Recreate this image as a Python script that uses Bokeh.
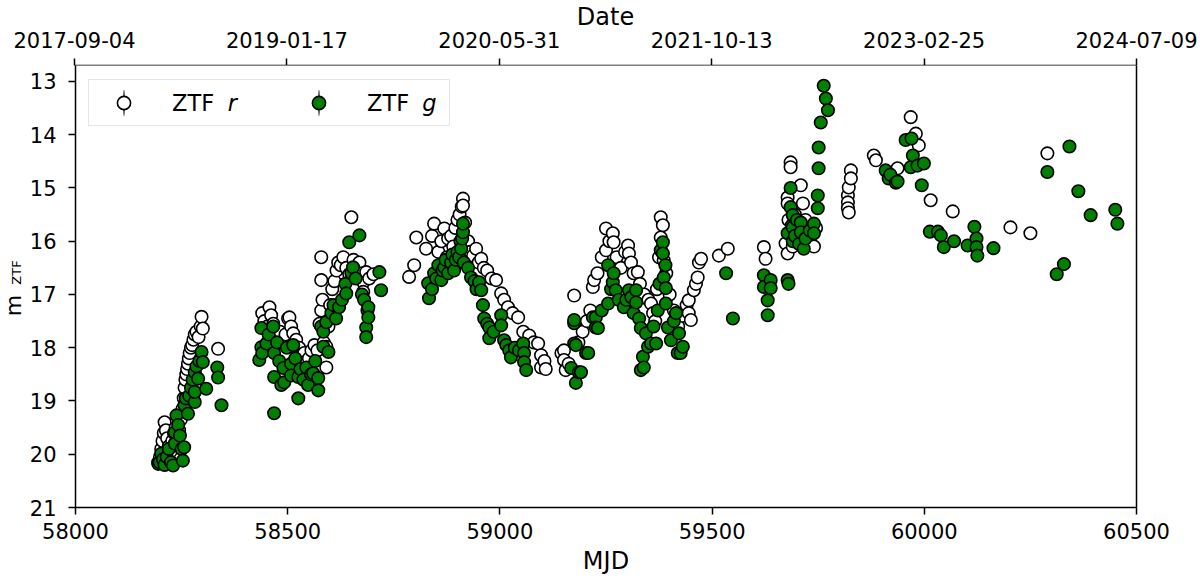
import math
from bokeh.plotting import figure
from bokeh.layouts import row, column
from bokeh.models import (Range1d, LinearAxis, FixedTicker, Legend, LegendItem,
                          Label, ColumnDataSource)
from bokeh.core.properties import value
from bokeh.embed import file_html
from bokeh.resources import INLINE

# ---------------- data ----------------
r_mjd = [
    58195, 58199, 58202, 58205, 58208, 58210, 58213, 58216, 58220, 58224,
    58228, 58232, 58236, 58240, 58244, 58248, 58252, 58255, 58257, 58259,
    58261, 58263, 58265, 58267, 58269, 58272, 58275, 58278, 58281, 58285,
    58290, 58295, 58297, 58300, 58336,
    58440, 58445, 58452, 58457, 58461, 58466, 58475, 58482, 58490, 58495,
    58501, 58504, 58508, 58513, 58520, 58527, 58532, 58539, 58545, 58550,
    58556, 58563, 58570, 58575, 58579, 58579, 58579, 58582, 58585, 58591,
    58591, 58596, 58600, 58605, 58610, 58615, 58619, 58625, 58631, 58638,
    58645, 58650, 58655, 58662, 58669, 58675, 58678, 58678, 58685, 58692,
    58702,
    58786, 58798, 58803, 58826, 58840, 58845, 58855, 58862, 58869, 58875,
    58878, 58885, 58890, 58895, 58900, 58905, 58910, 58913, 58913, 58918,
    58925, 58930, 58937, 58944, 58950, 58956, 58962, 58970, 58980, 58991,
    59003, 59010, 59019, 59030, 59043, 59055, 59069, 59080, 59090, 59097,
    59097, 59105, 59108,
    59145, 59151, 59151, 59155, 59162, 59175, 59185, 59195, 59205, 59213,
    59219, 59222, 59230, 59240, 59250, 59250, 59258, 59266, 59268, 59275,
    59285, 59295, 59302, 59304, 59309, 59315, 59325, 59330, 59340, 59350,
    59356, 59361, 59366, 59370, 59375, 59379, 59384, 59379, 59386, 59392,
    59400, 59410, 59420, 59430, 59440, 59445, 59445, 59450, 59457, 59462,
    59466, 59469, 59474, 59516, 59537,
    59622, 59626, 59673, 59678, 59678, 59678, 59680, 59683, 59685, 59685,
    59688, 59690, 59695, 59700, 59709, 59714, 59720, 59725, 59730, 59740,
    59745, 59820, 59820, 59820, 59822, 59822, 59827, 59827,
    59881, 59886, 59937, 59968, 59980, 59987, 60015, 60067, 60203, 60250,
    60290,
]
r_mag = [
    20.15, 20.05, 19.90, 19.75, 19.60, 19.40, 19.55, 19.70, 19.85, 19.95,
    19.75, 19.60, 19.50, 19.65, 19.55, 19.35, 19.15, 18.95, 18.75, 18.60,
    18.50, 18.40, 18.30, 18.20, 18.10, 18.00, 17.95, 17.85, 17.75, 17.70,
    17.80, 17.60, 17.42, 17.64, 18.02,
    17.35, 17.50, 17.60, 17.24, 17.39, 17.55, 17.80, 17.70, 17.90, 17.75,
    17.45, 17.43, 17.60, 17.73, 17.85, 18.00, 18.15, 18.10, 18.25, 18.20,
    18.05, 17.95, 18.05, 17.55, 17.30, 16.73, 16.30, 17.10, 17.90, 18.37,
    17.98, 17.60, 17.20, 16.90, 16.75, 16.55, 16.40, 16.45, 16.30, 16.50,
    16.62, 15.55, 16.35, 16.50, 16.40, 16.60, 16.77, 16.95, 16.58, 16.70,
    16.62,
    16.67, 16.45, 15.93, 16.14, 15.90, 15.67, 16.20, 16.00, 15.76, 16.30,
    15.95, 15.90, 16.10, 15.75, 15.60, 15.50, 15.35, 15.20, 15.33, 15.65,
    16.00, 16.20, 16.27, 16.14, 16.40, 16.33, 16.50, 16.55, 16.70, 16.73,
    16.98, 17.10, 17.24, 17.35, 17.43, 17.70, 17.77, 17.90, 17.92, 18.14,
    18.37, 18.25, 18.40,
    18.10, 18.05, 18.23, 18.42, 18.30, 17.02, 17.90, 17.70, 17.50, 17.30,
    16.86, 16.73, 16.60, 16.30, 15.76, 16.17, 16.00, 15.85, 16.02, 16.30,
    16.50, 16.20, 16.08, 16.23, 16.40, 16.60, 16.58, 16.80, 17.00, 17.10,
    17.17, 17.35, 17.50, 16.90, 16.30, 15.55, 15.70, 15.93, 16.36, 16.60,
    17.00, 17.30, 17.60, 17.40, 17.20, 17.11, 17.35, 17.48, 16.92, 16.80,
    16.68, 16.40, 16.33, 16.27, 16.14,
    16.11, 16.33, 16.04, 16.23, 15.18, 15.29, 15.60, 15.85, 14.52, 14.61,
    15.90, 16.10, 15.50, 15.80, 14.95, 15.29, 15.60, 15.90, 16.00, 16.10,
    15.75, 15.14, 15.27, 15.38, 14.99, 15.46, 14.67, 14.82,
    14.39, 14.48, 14.63, 13.67, 13.98, 14.20, 15.23, 15.44, 15.74, 15.85,
    14.35,
]

g_mjd = [
    58195, 58198, 58202, 58206, 58210, 58215, 58220, 58225, 58230, 58234,
    58234, 58238, 58242, 58246, 58250, 58253, 58256, 58257, 58260, 58265,
    58268, 58272, 58276, 58281, 58281, 58281, 58285, 58289, 58292, 58297,
    58300, 58308, 58334, 58336, 58344,
    58433, 58438, 58438, 58440, 58450, 58455, 58466, 58468, 58468, 58468,
    58475, 58480, 58485, 58490, 58492, 58498, 58508, 58508, 58513, 58518,
    58525, 58525, 58530, 58537, 58544, 58548, 58555, 58560, 58565, 58572,
    58572, 58579, 58584, 58584, 58591, 58596, 58603, 58608, 58614, 58621,
    58628, 58636, 58638, 58645, 58650, 58654, 58660, 58669, 58675, 58680,
    58685, 58685, 58688, 58690, 58690, 58716, 58720,
    58831, 58833, 58840, 58845, 58850, 58855, 58862, 58865, 58869, 58872,
    58878, 58885, 58888, 58892, 58896, 58900, 58904, 58907, 58909, 58911,
    58913, 58913, 58915, 58925, 58932, 58940, 58945, 58951, 58956, 58960,
    58963, 58970, 58975, 58975, 58985, 59003, 59003, 59010, 59015, 59022,
    59026, 59035, 59045, 59055, 59057, 59057, 59062,
    59168, 59175, 59175, 59175, 59179, 59179, 59186, 59191, 59203, 59208,
    59219, 59226, 59226, 59231, 59240, 59255, 59255, 59262, 59266, 59268,
    59273, 59280, 59292, 59298, 59304, 59310, 59315, 59321, 59321, 59328,
    59332, 59332, 59337, 59339, 59344, 59349, 59356, 59362, 59368, 59372,
    59376, 59379, 59384, 59384, 59386, 59390, 59391, 59391, 59396, 59403,
    59410, 59415, 59419, 59422, 59426, 59431, 59533, 59549,
    59622, 59622, 59631, 59631, 59638, 59638, 59678, 59680, 59678, 59685,
    59685, 59688, 59690, 59690, 59690, 59695, 59700, 59705, 59709, 59709,
    59716, 59720, 59730, 59740, 59740, 59749, 59749, 59751, 59751, 59756,
    59763, 59768, 59773,
    59909, 59916, 59920, 59933, 59937, 59956, 59968, 59970, 59973, 59984,
    59994, 59999, 60013, 60032, 60039, 60046, 60070, 60102, 60118, 60123,
    60123, 60125, 60163, 60290, 60312, 60329, 60342, 60363, 60392, 60450,
    60455,
]
g_mag = [
    20.18, 20.15, 19.99, 20.10, 20.20, 20.05, 19.90, 20.15, 20.21, 19.80,
    19.59, 19.27, 19.45, 19.65, 19.90, 20.12, 19.87, 19.08, 18.95, 19.24,
    18.90, 18.75, 18.60, 19.02, 18.83, 18.46, 18.35, 18.58, 18.25, 18.08,
    18.27, 18.77, 18.37, 18.56, 19.08,
    18.23, 17.63, 17.99, 18.10, 17.92, 17.75, 17.60, 18.10, 18.55, 19.23,
    17.90, 18.25, 18.70, 18.38, 18.65, 18.00, 18.30, 18.52, 17.95, 18.20,
    18.55, 18.95, 18.40, 18.60, 18.37, 18.70, 18.50, 18.48, 18.25, 18.57,
    18.80, 17.60, 17.70, 17.98, 17.52, 18.08, 17.35, 17.20, 17.45, 17.24,
    17.10, 16.80, 16.98, 16.02, 16.60, 16.49, 16.70, 15.89, 17.00, 17.10,
    17.62, 17.80, 17.30, 17.24, 17.43, 16.58, 16.92,
    16.79, 17.07, 16.90, 16.60, 16.70, 16.45, 16.73, 16.55, 16.49, 16.35,
    16.60, 16.40, 16.25, 16.55, 16.35, 16.20, 16.30, 16.00, 16.14, 15.95,
    15.83, 15.67, 16.40, 16.50, 16.68, 16.75, 16.90, 16.77, 16.92, 17.20,
    17.45, 17.55, 17.62, 17.82, 17.70, 17.39, 17.58, 17.86, 17.95, 18.05,
    18.18, 18.00, 18.05, 17.92, 18.10, 18.27, 18.42,
    18.38, 17.54, 17.92, 17.48, 17.95, 18.66, 18.46, 18.46, 18.10, 18.10,
    17.43, 17.43, 17.62, 17.63, 17.30, 17.17, 16.45, 16.90, 16.77, 16.60,
    16.92, 17.10, 17.24, 17.10, 16.92, 17.05, 17.35, 16.92, 17.15, 17.45,
    17.63, 18.42, 18.17, 18.37, 17.73, 17.98, 17.92, 17.60, 17.92, 17.30,
    16.80, 16.17, 16.02, 16.23, 16.68, 16.45, 16.88, 17.17, 17.62, 17.86,
    17.50, 17.35, 18.10, 17.73, 18.10, 17.98, 16.60, 17.45,
    16.64, 16.86, 17.11, 17.39, 16.73, 16.88, 16.73, 16.80, 15.85, 15.00,
    15.36, 15.70, 15.51, 15.74, 16.00, 15.90, 15.60, 16.05, 15.65, 15.83,
    16.14, 15.95, 15.80, 15.67, 15.85, 15.14, 15.38, 14.24, 14.63, 13.77,
    13.08, 13.32, 13.54,
    14.67, 14.82, 14.75, 14.90, 14.88, 14.10, 14.61, 14.07, 14.39, 14.58,
    14.95, 14.54, 15.82, 15.82, 15.89, 16.11, 16.00, 16.08, 15.73, 15.95,
    16.11, 16.27, 16.13, 14.70, 16.62, 16.43, 14.22, 15.06, 15.51, 15.41,
    15.67,
]

x_ticks = [58000, 58500, 59000, 59500, 60000, 60500]
date_labels = ["2017-09-04", "2019-01-17", "2020-05-31",
               "2021-10-13", "2023-02-25", "2024-07-09"]
y_ticks = [13, 14, 15, 16, 17, 18, 19, 20, 21]
series_names = ["ZTF", "ZTF"]
band_names = ["r", "g"]

assert len(r_mjd) == len(r_mag), (len(r_mjd), len(r_mag))
assert len(g_mjd) == len(g_mag), (len(g_mjd), len(g_mag))

FONT = "DejaVu Sans"
FRAME_L, FRAME_T, FRAME_R, FRAME_B = 74, 65, 1136, 507   # page pixels
TOP_H = FRAME_T          # figure carrying the top (Date) axis
YLAB_W = 26              # strip carrying the y-axis title
PH = 578 - TOP_H

x_range = Range1d(58000, 60500)


def style_axis(ax, standoff):
    ax.axis_line_color = "black"
    ax.axis_line_width = 1.5
    ax.major_tick_line_color = "black"
    ax.major_tick_line_width = 1.5
    ax.major_tick_out = 7
    ax.major_tick_in = 0
    ax.minor_tick_line_color = None
    ax.major_label_text_font = FONT
    ax.major_label_text_font_size = "21px"
    ax.major_label_text_color = "black"
    ax.major_label_standoff = standoff
    ax.axis_label_text_font = FONT
    ax.axis_label_text_font_size = "24px"
    ax.axis_label_text_font_style = "normal"
    ax.axis_label_text_color = "black"


# ---------------- top figure: date axis ----------------
tp = figure(width=1200, height=TOP_H, output_backend="svg", toolbar_location=None,
            x_range=x_range, y_range=Range1d(0, 1),
            x_axis_location="above", y_axis_location=None,
            min_border_left=FRAME_L, min_border_right=1200 - FRAME_R,
            min_border_top=TOP_H - 1, min_border_bottom=0,
            background_fill_color="white", border_fill_color="white")
tp.outline_line_color = None
tp.xgrid.visible = False
tp.ygrid.visible = False
top = tp.above[0]
top.ticker = FixedTicker(ticks=x_ticks)
top.major_label_overrides = {t: d for t, d in zip(x_ticks, date_labels)}
style_axis(top, 11)
top.axis_label = "Date"
top.axis_label_standoff = -2

# ---------------- y-title strip ----------------
# (its frame is aligned by the row layout with the main plot's frame,
#  so its y range is expressed directly in page pixels of that frame)
ylab = figure(width=YLAB_W, height=PH, output_backend="svg", toolbar_location=None,
              x_range=Range1d(0, YLAB_W), y_range=Range1d(FRAME_B, FRAME_T),
              min_border=0, x_axis_location=None, y_axis_location=None,
              background_fill_color="white", border_fill_color="white")
ylab.outline_line_color = None
ylab.xgrid.visible = False
ylab.ygrid.visible = False
ylab.add_layout(Label(x=13.2, y=305, text="m", text_font=FONT,
                      text_font_size="22px", angle=math.pi / 2,
                      text_align="center", text_baseline="middle",
                      text_color="black"))
ylab.add_layout(Label(x=15.5, y=272, text="ZTF", text_font=FONT,
                      text_font_size="13px", angle=math.pi / 2,
                      text_align="center", text_baseline="middle",
                      text_color="black"))

# ---------------- main figure ----------------
p = figure(width=1200 - YLAB_W, height=PH, output_backend="svg",
           toolbar_location=None,
           x_range=x_range, y_range=Range1d(21, 12.7),
           min_border_left=FRAME_L - YLAB_W, min_border_right=1200 - FRAME_R,
           min_border_top=0, min_border_bottom=578 - FRAME_B,
           background_fill_color="white", border_fill_color="white")
p.xgrid.visible = False
p.ygrid.visible = False
p.outline_line_color = None

bottom = p.below[0]
bottom.ticker = FixedTicker(ticks=x_ticks)
style_axis(bottom, 8)
bottom.axis_label = "MJD"
bottom.axis_label_standoff = 5

left = p.left[0]
left.ticker = FixedTicker(ticks=y_ticks)
style_axis(left, 12)

right = LinearAxis(ticker=FixedTicker(ticks=[]))
style_axis(right, 0)
p.add_layout(right, "right")

# ---------------- data glyphs ----------------
src_r = ColumnDataSource(dict(mjd=r_mjd, mag=r_mag))
src_g = ColumnDataSource(dict(mjd=g_mjd, mag=g_mag))

# thin error-bar stubs, hidden behind the markers (they give the legend its bar)
er = p.ellipse(x="mjd", y="mag", width=1.5, height=0.2, source=src_r,
               fill_color="black", line_color=None)
eg = p.ellipse(x="mjd", y="mag", width=1.5, height=0.2, source=src_g,
               fill_color="black", line_color=None)
rr = p.scatter("mjd", "mag", source=src_r, marker="circle", size=12.5,
               fill_color="white", line_color="black", line_width=1.6)
gr = p.scatter("mjd", "mag", source=src_g, marker="circle", size=12.5,
               fill_color="green", line_color="black", line_width=1.6)

# ---------------- legend ----------------
legend = Legend(items=[LegendItem(label=value(series_names[0]), renderers=[er, rr]),
                       LegendItem(label=value(series_names[1]), renderers=[eg, gr])],
                location=(13, 381), orientation="horizontal",
                padding=6, spacing=42, glyph_height=33, glyph_width=57,
                label_standoff=20, label_width=76, label_height=20,
                label_text_font=FONT, label_text_font_size="22.5px",
                label_text_color="black",
                border_line_color="#cccccc", border_line_width=1.2,
                background_fill_color="white", background_fill_alpha=0.0)
p.add_layout(legend, "center")

for xb, band in zip([58359, 58817], band_names):
    p.add_layout(Label(x=xb, y=13.404, text=band, text_font=FONT,
                       text_font_size="22.5px", text_font_style="italic",
                       text_align="left", text_baseline="middle",
                       text_color="black", level="overlay"))

layout = column(tp, row(ylab, p))
open("out.html", "w").write(file_html(layout, INLINE))
